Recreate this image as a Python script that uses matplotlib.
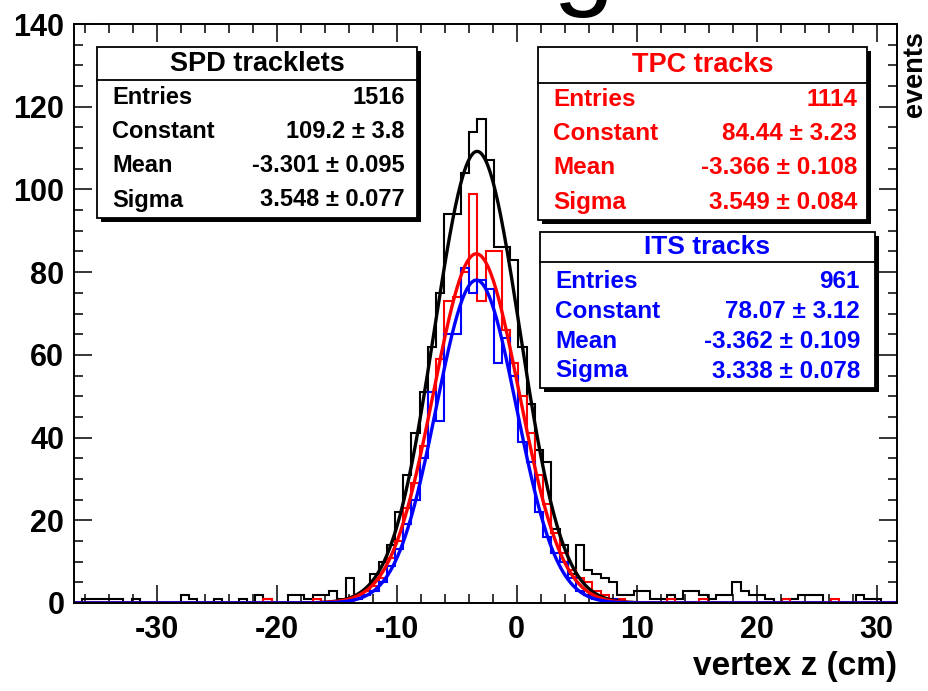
import numpy as np
import matplotlib
matplotlib.use('Agg')
import matplotlib.pyplot as plt
from matplotlib.patches import Rectangle

plt.rcParams['font.family'] = ['Liberation Sans', 'DejaVu Sans']
plt.rcParams['font.weight'] = 'bold'
plt.rcParams['axes.unicode_minus'] = False

W, H = 929, 691

# binning of the z-vertex histograms
z_lo, z_hi, n_bins = -36.9, 31.7, 100

spd_counts = [0, 1, 1, 1, 1, 1, 0, 1, 0, 0,
              0, 0, 0, 2, 1, 0, 0, 1, 0, 0,
              1, 0, 2, 1, 0, 0, 2, 2, 1, 2,
              2, 3, 1, 6, 2, 3, 7, 10, 14, 22,
              31, 41, 51, 62, 75, 94, 94, 104, 114, 117,
              107, 86, 86, 83, 62, 48, 37, 34, 18, 14,
              7, 14, 8, 7, 6, 5, 2, 2, 3, 3,
              1, 1, 2, 1, 3, 3, 2, 1, 2, 2,
              5, 3, 2, 2, 1, 0, 0, 1, 2, 2,
              2, 0, 0, 0, 0, 2, 1, 1, 0, 0]

tpc_counts = [0, 0, 0, 0, 0, 0, 0, 0, 0, 0,
              0, 0, 0, 0, 0, 0, 0, 0, 0, 0,
              0, 0, 0, 1, 0, 0, 0, 0, 0, 1,
              0, 0, 0, 0, 2, 3, 4, 6, 11, 15,
              23, 29, 38, 51, 59, 73, 74, 80, 99, 73,
              85, 85, 66, 58, 50, 41, 31, 24, 17, 12,
              8, 6, 5, 3, 2, 1, 1, 0, 0, 0,
              0, 0, 1, 0, 0, 0, 1, 0, 0, 0,
              0, 0, 0, 0, 0, 0, 1, 0, 0, 0,
              0, 0, 1, 0, 0, 0, 0, 0, 0, 0]

its_counts = [0, 0, 0, 0, 0, 0, 0, 0, 0, 0,
              0, 0, 0, 0, 0, 0, 0, 0, 0, 0,
              0, 0, 0, 0, 0, 0, 0, 0, 0, 0,
              0, 0, 0, 1, 1, 2, 3, 5, 9, 13,
              19, 25, 35, 51, 44, 65, 65, 81, 75, 78,
              76, 58, 64, 55, 39, 34, 22, 16, 12, 10,
              6, 3, 2, 1, 1, 1, 0, 0, 0, 0,
              0, 0, 0, 0, 0, 0, 0, 0, 0, 0,
              0, 0, 0, 0, 0, 0, 0, 0, 0, 0,
              0, 0, 0, 0, 0, 0, 0, 0, 0, 0]

# gaussian fit results (constant, mean, sigma)
spd_fit = (109.2, -3.301, 3.548)
tpc_fit = (84.44, -3.366, 3.549)
its_fit = (78.07, -3.362, 3.338)

stat_rows = {
    'SPD tracklets': [('Entries', '1516'), ('Constant', '109.2 ± 3.8'),
                      ('Mean', '-3.301 ± 0.095'), ('Sigma', '3.548 ± 0.077')],
    'TPC tracks': [('Entries', '1114'), ('Constant', '84.44 ± 3.23'),
                   ('Mean', '-3.366 ± 0.108'), ('Sigma', '3.549 ± 0.084')],
    'ITS tracks': [('Entries', '961'), ('Constant', '78.07 ± 3.12'),
                   ('Mean', '-3.362 ± 0.109'), ('Sigma', '3.338 ± 0.078')],
}

fig = plt.figure(figsize=(W / 100, H / 100), dpi=100)
ax = fig.add_axes([74 / W, 1 - 603 / H, (897 - 74) / W, (603 - 24) / H])

edges = np.linspace(z_lo, z_hi, n_bins + 1)
zz = np.linspace(z_lo, z_hi, 1000)

def gaus(p, x):
    return p[0] * np.exp(-0.5 * ((x - p[1]) / p[2]) ** 2)

for counts, fit, col in [(spd_counts, spd_fit, 'black'),
                         (tpc_counts, tpc_fit, '#ff0000'),
                         (its_counts, its_fit, '#0000ff')]:
    ax.stairs(counts, edges, color=col, lw=1.5)
    ax.plot(zz, gaus(fit, zz), color=col, lw=2.4)

ax.set_xlim(z_lo, z_hi)
ax.set_ylim(0, 140)
ax.set_xticks([-30, -20, -10, 0, 10, 20, 30])
ax.set_xticks(np.arange(-36, 32, 2), minor=True)
ax.set_yticks(np.arange(0, 141, 20))
ax.set_yticks(np.arange(0, 141, 5), minor=True)
ax.tick_params(which='both', direction='in', top=True, right=True, width=1.1)
ax.tick_params(which='major', length=13, labelsize=22)
ax.tick_params(which='minor', length=6.5)
ax.tick_params(axis='x', pad=9)
ax.tick_params(axis='y', pad=7)
for s in ax.spines.values():
    s.set_linewidth(1.4)

fig.text(897 / W, 1 - 667 / H, 'vertex z (cm)', ha='right', va='center', fontsize=24)
fig.text(915 / W, 1 - 74 / H, 'events', ha='center', va='center', rotation=90, fontsize=19.5)
# clipped piece of a larger title above the frame
fig.text(583 / W, 1 + 5 / H, 'g', ha='center', va='baseline', fontsize=80, fontweight='normal')


def fx(px):
    return px / W


def fy(py):
    return 1 - py / H


def stat_box(title, box, ysep, title_y, row_ys, lx, rx, col, tsize, rsize):
    x0, y0, x1, y1 = box
    fig.patches.append(Rectangle((fx(x0 + 4), fy(y1 + 4)), fx(x1 - x0), (y1 - y0) / H,
                                 transform=fig.transFigure, facecolor='black',
                                 edgecolor='none', zorder=5))
    fig.patches.append(Rectangle((fx(x0), fy(y1)), fx(x1 - x0), (y1 - y0) / H,
                                 transform=fig.transFigure, facecolor='white',
                                 edgecolor='black', lw=1.3, zorder=6))
    fig.lines.append(plt.Line2D([fx(x0), fx(x1)], [fy(ysep), fy(ysep)],
                                transform=fig.transFigure, color='black', lw=1.3, zorder=7))
    fig.text(fx((x0 + x1) / 2), fy(title_y), title, ha='center', va='center',
             fontsize=tsize, color=col, zorder=8)
    for (lab, val), yy in zip(stat_rows[title], row_ys):
        fig.text(fx(lx), fy(yy), lab, ha='left', va='center', fontsize=rsize, color=col, zorder=8)
        fig.text(fx(rx), fy(yy), val, ha='right', va='center', fontsize=rsize, color=col, zorder=8)


stat_box('SPD tracklets', (97, 47, 417, 218), 80, 64, [98, 132, 166, 200], 112, 405,
         'black', 19.5, 17)
stat_box('TPC tracks', (538, 47, 867, 220), 83, 65, [100, 134, 168, 202], 553, 857,
         '#ff0000', 19.5, 17.5)
stat_box('ITS tracks', (540, 232, 875, 388), 262, 247, [281, 311, 341, 371], 555, 860,
         '#0000ff', 19, 17.5)

fig.savefig('out.png', dpi=100)
